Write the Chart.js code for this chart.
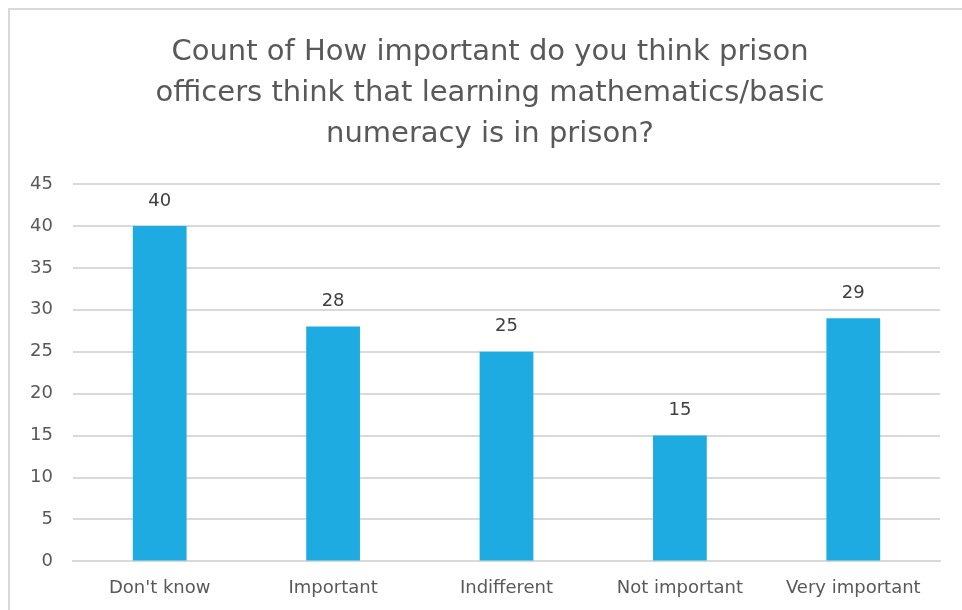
<!DOCTYPE html>
<html>
<head>
<meta charset="utf-8">
<script src="https://cdn.jsdelivr.net/npm/chart.js@4"></script>
<style>
  html, body { margin: 0; padding: 0; background: #fff; }
  #wrap { position: relative; width: 962px; height: 610px; }
  #chart { display: block; }
  #frame {
    position: absolute; left: 8px; top: 8px; width: 980px; height: 640px;
    border: 2px solid #d9d9d9; box-sizing: border-box; pointer-events: none;
  }
</style>
</head>
<body>
<div id="wrap">
  <canvas id="chart" width="962" height="610"></canvas>
  <div id="frame"></div>
</div>
<script>
/* ================= DATA ================= */
const categories = ["Don't know", "Important", "Indifferent", "Not important", "Very important"];
const counts = [40, 28, 25, 15, 29];
const titleLines = [
  "Count of How important do you think prison",
  "officers think that learning mathematics/basic",
  "numeracy is in prison?"
];

const FONT = "'DejaVu Sans', sans-serif";

/* ================= TITLE ================= */
// drawn by hand so it can sit centred on the frame, not on the plot
const titleText = {
  id: "titleText",
  afterDraw(chart) {
    const ctx = chart.ctx;
    ctx.save();
    ctx.font = "29px " + FONT;
    ctx.fillStyle = "#595959";
    ctx.textAlign = "center";
    ctx.textBaseline = "middle";
    titleLines.forEach((line, i) => {
      ctx.fillText(line, 490, 52 + i * 41);
    });
    ctx.restore();
  }
};

/* ================= VALUE LABELS ================= */
const valueLabels = {
  id: "valueLabels",
  afterDatasetsDraw(chart) {
    const ctx = chart.ctx;
    const meta = chart.getDatasetMeta(0);
    ctx.save();
    ctx.font = "18px " + FONT;
    ctx.fillStyle = "#404040";
    ctx.textAlign = "center";
    ctx.textBaseline = "middle";
    meta.data.forEach((bar, i) => {
      ctx.fillText(counts[i], bar.x, bar.y - 25);
    });
    ctx.restore();
  }
};

/* ================= CHART ================= */
new Chart(document.getElementById("chart"), {
  type: "bar",
  data: {
    labels: categories,
    datasets: [{
      data: counts,
      backgroundColor: "#1eabe2",
      barPercentage: 0.31,
      categoryPercentage: 1
    }]
  },
  options: {
    responsive: false,
    animation: false,
    layout: { padding: { left: 0, right: 22, top: 184, bottom: -5 } },
    plugins: {
      legend: { display: false },
      tooltip: { enabled: false },
      title: { display: false }
    },
    scales: {
      x: {
        grid: { display: false, drawTicks: false },
        border: { display: true, color: "#d9d9d9", width: 2 },
        ticks: { color: "#595959", font: { family: FONT, size: 18 }, padding: 16 }
      },
      y: {
        min: 0,
        max: 45,
        afterFit: (axis) => { axis.width = 73; },
        grid: { color: "#d9d9d9", lineWidth: 2, drawTicks: false },
        border: { display: false },
        ticks: { stepSize: 5, color: "#595959", font: { family: FONT, size: 18 }, padding: 20 }
      }
    }
  },
  plugins: [valueLabels, titleText]
});
</script>
</body>
</html>
